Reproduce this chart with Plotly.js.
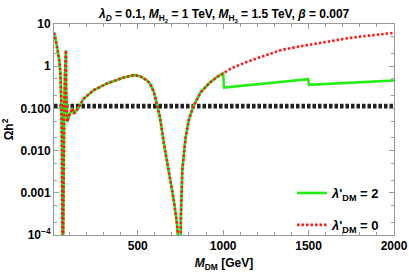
<!DOCTYPE html>
<html>
<head>
<meta charset="utf-8">
<script src="https://cdn.plot.ly/plotly-3.0.1.min.js"></script>
<style>html,body{margin:0;padding:0;background:#fff;}#chart{width:409px;height:273px;}</style>
</head>
<body>
<div id="chart"></div>
<script>
// Common curve (both lambda'_DM values coincide up to M_DM = 1000 GeV)
const mdmCommon = [10, 12, 20, 30, 37, 42, 47, 52, 56, 59, 61, 62.5, 64, 66, 70, 74, 78, 80, 81, 84, 88, 95, 105, 115, 120, 126, 135, 150, 184, 242, 321, 418, 480, 516, 555, 575, 595, 614, 630, 653, 682, 711, 730, 740, 745, 749, 753, 761, 780, 800, 825, 868, 920, 960, 1000];
const omegaCommon = [6.3, 5.9, 4.1, 2.6, 1.84, 1.26, 0.73, 0.2, 0.02, 0.001, 0.0001, 0.000001, 0.0001, 0.003, 0.1, 0.6, 1.8, 2.4, 0.3, 0.06, 0.048, 0.062, 0.08, 0.095, 0.1, 0.075, 0.082, 0.1, 0.17, 0.27, 0.39, 0.54, 0.62, 0.57, 0.46, 0.37, 0.24, 0.12, 0.063, 0.015, 0.0035, 0.00067, 0.00018, 0.00005, 0.000001, 0.00005, 0.0003, 0.0035, 0.02, 0.055, 0.11, 0.24, 0.4, 0.54, 0.68];
// lambda'_DM = 0 beyond 1000 GeV
const mdmRed = [1050, 1142, 1250, 1337, 1420, 1503, 1600, 1728, 1850, 2000];
const omegaRed = [0.9, 1.28, 1.85, 2.4, 2.8, 3.2, 3.8, 4.6, 5.3, 6.2];
// lambda'_DM = 2 beyond 1000 GeV
const mdmGreen = [1005, 1250, 1498, 1502, 1750, 2000];
const omegaGreen = [0.31, 0.39, 0.49, 0.36, 0.41, 0.46];
// Planck relic density band
const planckBand = [0.107, 0.12];
const xRange = [10, 2000];
const xTicks = [500, 1000, 1500, 2000];
const yTicks = [1e-4, 1e-3, 1e-2, 0.1, 1, 10];
const yTickText = ['10<sup>−4</sup>', '0.001', '0.010', '0.100', '1', '10'];
const seriesNames = ["<i>λ</i>'<sub>DM</sub> = 2", "<i>λ</i>'<sub>DM</sub> = 0"];

const FONT = 'Liberation Sans, Arial, sans-serif';
const traces = [];
planckBand.forEach(v => {
  traces.push({x: xRange, y: [v, v], mode: 'lines', showlegend: false, hoverinfo: 'skip',
    line: {color: '#222', width: 2.6, dash: '3.5px,2px'}});
});
traces.push({x: mdmCommon.concat(mdmGreen), y: omegaCommon.concat(omegaGreen), mode: 'lines',
  name: seriesNames[0], legendgroup: 'g', line: {color: '#22ee11', width: 2.6}});
traces.push({x: mdmCommon.concat(mdmRed), y: omegaCommon.concat(omegaRed), mode: 'lines',
  name: seriesNames[1], legendgroup: 'r', line: {color: '#ff1a1a', width: 2.6, dash: '2.5px,2px'}});

const layout = {
  width: 409, height: 273,
  margin: {l: 54, r: 15, t: 24, b: 38},
  paper_bgcolor: '#fff', plot_bgcolor: '#fff',
  font: {family: FONT, size: 12, color: '#000', weight: 'bold'},
  title: {text: "<i>λ<sub>D</sub></i> = 0.1, <i>M</i><sub>H<sub>2</sub></sub> = 1 TeV, <i>M</i><sub>H<sub>3</sub></sub> = 1.5 TeV, <i>β</i> = 0.007",
    font: {family: FONT, size: 12, weight: 'bold'}, x: 0.548, xanchor: 'center', y: 0.948, yanchor: 'middle'},
  xaxis: {range: xRange, tickvals: xTicks, ticks: 'inside', ticklen: 5, tickcolor: '#999',
    showline: true, linecolor: '#999', linewidth: 1, mirror: 'allticks', showgrid: false, zeroline: false,
    tickfont: {family: FONT, size: 12, weight: 'bold'},
    minor: {dtick: 100, ticks: 'inside', ticklen: 3, tickcolor: '#999', showgrid: false},
    title: {text: '<i>M</i><sub>DM</sub> [GeV]', font: {family: FONT, size: 12, weight: 'bold'}, standoff: 6}},
  yaxis: {type: 'log', range: [-4, 1], tickvals: yTicks, ticktext: yTickText, ticks: 'inside', ticklen: 5,
    tickcolor: '#999', showline: true, linecolor: '#999', linewidth: 1, mirror: 'allticks', showgrid: false,
    zeroline: false, tickfont: {family: FONT, size: 12, weight: 'bold'},
    minor: {ticks: 'inside', ticklen: 3, tickcolor: '#999', showgrid: false},
    title: {text: 'Ωh<sup>2</sup>', font: {family: FONT, size: 12, weight: 'bold'}, standoff: 5}},
  legend: {x: 0.7, y: 0.27, xanchor: 'left', yanchor: 'top', bgcolor: 'rgba(0,0,0,0)',
    font: {family: FONT, size: 13, weight: 'bold'}, tracegroupgap: 12, traceorder: 'grouped'},
  showlegend: true
};
Plotly.newPlot('chart', traces, layout, {displayModeBar: false, staticPlot: true});
</script>
</body>
</html>
